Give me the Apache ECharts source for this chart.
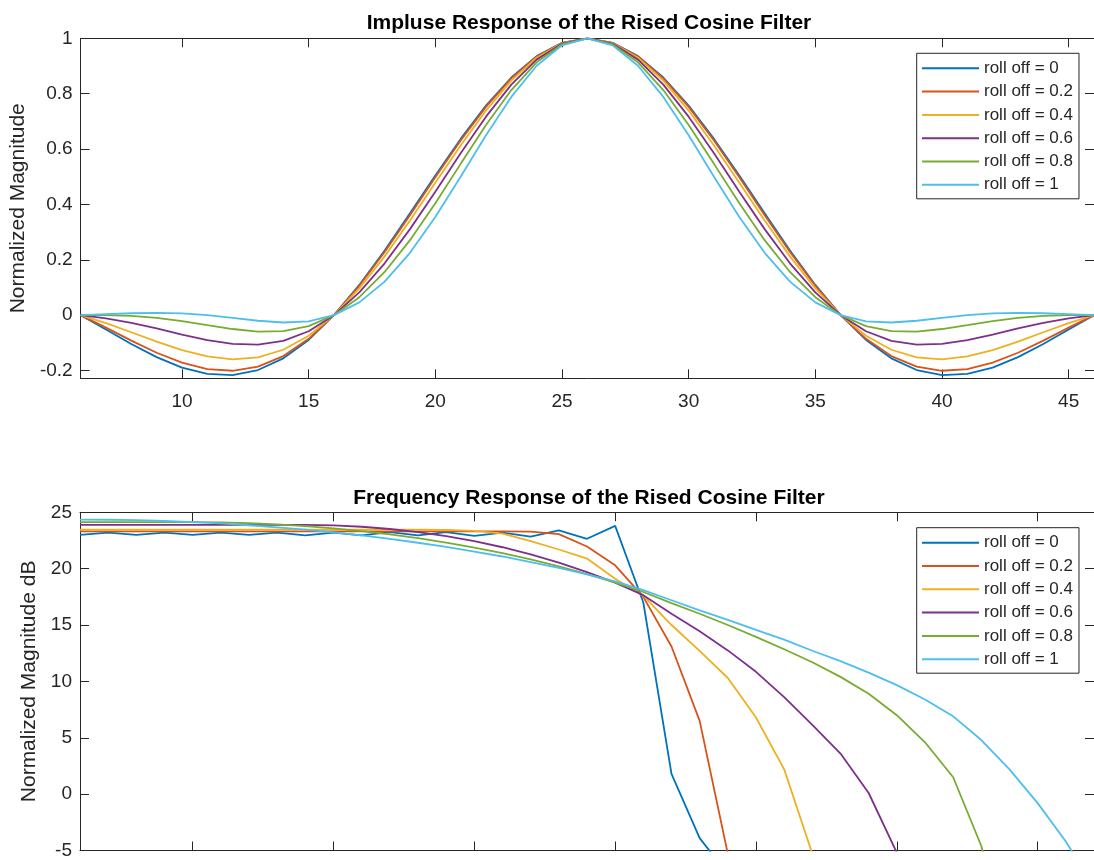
<!DOCTYPE html>
<html>
<head>
<meta charset="utf-8">
<script src="https://cdn.jsdelivr.net/npm/echarts@6/dist/echarts.min.js"></script>
<style>
html,body{margin:0;padding:0;background:#fff;}
#chart{width:1094px;height:860px;}
</style>
</head>
<body>
<div id="chart"></div>
<script>
// ---------- data ----------
const seriesNames = ['roll off = 0', 'roll off = 0.2', 'roll off = 0.4', 'roll off = 0.6', 'roll off = 0.8', 'roll off = 1'];
const topTitle = 'Impluse Response of the Rised Cosine Filter';
const bottomTitle = 'Frequency Response of the Rised Cosine Filter';
const topYLabel = 'Normalized Magnitude';
const bottomYLabel = 'Normalized Magnitude dB';

// impulse response sample index
const samples = [6,7,8,9,10,11,12,13,14,15,16,17,18,19,20,21,22,23,24,25,26,27,28,29,30,31,32,33,34,35,36,37,38,39,40,41,42,43,44,45,46];
const topXTicks = [10,15,20,25,30,35,40,45];
const topYTicks = [-0.2,0,0.2,0.4,0.6,0.8,1];

const imp00 = [0,-0.0518,-0.1039,-0.1515,-0.1892,-0.2122,-0.2162,-0.1981,-0.1559,-0.0894,0,0.1093,0.2339,0.3679,0.5046,0.6366,0.7568,0.8584,0.9355,0.9836,1,0.9836,0.9355,0.8584,0.7568,0.6366,0.5046,0.3679,0.2339,0.1093,0,-0.0894,-0.1559,-0.1981,-0.2162,-0.2122,-0.1892,-0.1515,-0.1039,-0.0518,0];
const imp02 = [0,-0.0451,-0.0919,-0.1357,-0.1717,-0.1949,-0.2008,-0.1859,-0.1477,-0.0854,0,0.1060,0.2283,0.3612,0.4978,0.6307,0.7523,0.8555,0.9341,0.9833,1,0.9833,0.9341,0.8555,0.7523,0.6307,0.4978,0.3612,0.2283,0.1060,0,-0.0854,-0.1477,-0.1859,-0.2008,-0.1949,-0.1717,-0.1357,-0.0919,-0.0451,0];
const imp04 = [0,-0.0288,-0.0617,-0.0955,-0.1262,-0.1490,-0.1593,-0.1524,-0.1249,-0.0743,0,0.0966,0.2123,0.3416,0.4779,0.6131,0.7389,0.8469,0.9299,0.9822,1,0.9822,0.9299,0.8469,0.7389,0.6131,0.4779,0.3416,0.2123,0.0966,0,-0.0743,-0.1249,-0.1524,-0.1593,-0.1490,-0.1262,-0.0955,-0.0617,-0.0288,0];
const imp06 = [0,-0.0112,-0.0275,-0.0478,-0.0699,-0.0901,-0.1040,-0.1065,-0.0926,-0.0580,0,0.0823,0.1873,0.3108,0.4461,0.5847,0.7169,0.8327,0.9230,0.9803,1,0.9803,0.9230,0.8327,0.7169,0.5847,0.4461,0.3108,0.1873,0.0823,0,-0.0580,-0.0926,-0.1065,-0.1040,-0.0901,-0.0699,-0.0478,-0.0275,-0.0112,0];
const imp08 = [0,0.0004,-0.0027,-0.0101,-0.0217,-0.0361,-0.0500,-0.0591,-0.0576,-0.0396,0,0.0649,0.1560,0.2710,0.4041,0.5465,0.6869,0.8131,0.9133,0.9778,1,0.9778,0.9133,0.8131,0.6869,0.5465,0.4041,0.2710,0.1560,0.0649,0,-0.0396,-0.0576,-0.0591,-0.0500,-0.0361,-0.0217,-0.0101,-0.0027,0.0004,0];
const imp10 = [0,0.0037,0.0070,0.0084,0.0063,0,-0.0098,-0.0202,-0.0265,-0.0222,0,0.0464,0.1213,0.2253,0.3544,0.5,0.6497,0.7884,0.9010,0.9745,1,0.9745,0.9010,0.7884,0.6497,0.5,0.3544,0.2253,0.1213,0.0464,0,-0.0222,-0.0265,-0.0202,-0.0098,0,0.0063,0.0084,0.0070,0.0037,0];

// frequency response bins
const freqBins = [1,2,3,4,5,6,7,8,9,10,11,12,13,14,15,16,17,18,19,20,21,22,23,24,25,26,27,28,29,30,31,32,33,34,35,36,37];
const bottomXTicks = [5,10,15,20,25,30,35];

const freq00 = [23.0,23.2,23.0,23.2,23.0,23.2,23.0,23.2,22.95,23.2,22.95,23.25,22.95,23.25,22.9,23.2,22.85,23.4,22.65,23.8,17.0,1.8,-3.9,-7.1,null,null,null,null,null,null,null,null,null,null,null,null,null];
const freq02 = [23.3,23.3,23.3,23.3,23.3,23.3,23.3,23.3,23.3,23.3,23.3,23.3,23.3,23.3,23.3,23.3,23.28,23.06,21.97,20.3,17.5,13.1,6.5,-5.3,null,null,null,null,null,null,null,null,null,null,null,null,null];
const freq04 = [23.47,23.47,23.47,23.47,23.47,23.47,23.47,23.47,23.47,23.47,23.47,23.47,23.47,23.44,23.35,23.1,22.45,21.7,20.9,19.1,17.6,15.0,12.7,10.3,6.8,2.2,-5.3,null,null,null,null,null,null,null,null,null,null];
const freq06 = [23.88,23.88,23.88,23.88,23.88,23.88,23.88,23.88,23.88,23.84,23.72,23.52,23.24,22.88,22.44,21.90,21.27,20.54,19.70,18.76,17.65,16.0,14.45,12.75,10.85,8.6,6.15,3.6,0.1,-5.2,null,null,null,null,null,null,null];
const freq08 = [24.12,24.12,24.12,24.12,24.12,24.10,24.03,23.92,23.77,23.57,23.33,23.04,22.70,22.31,21.87,21.38,20.83,20.21,19.52,18.76,17.93,16.95,16.0,15.0,13.95,12.85,11.7,10.4,8.9,7.0,4.6,1.5,-4.6,-15,null,null,null];
const freq10 = [24.35,24.34,24.30,24.23,24.13,24.01,23.85,23.67,23.46,23.22,22.95,22.64,22.30,21.93,21.52,21.08,20.59,20.06,19.49,18.87,18.1,17.2,16.3,15.45,14.57,13.7,12.72,11.8,10.78,9.67,8.4,6.9,4.8,2.2,-0.8,-4.2,-8.2];

// ---------- styling ----------
const colors = ['#0072BD','#D95319','#EDB120','#7E2F8E','#77AC30','#4DBEEE'];
const FONT = '"Liberation Sans", Arial, Helvetica, sans-serif';
const AX = '#262626';

const impulse = [imp00, imp02, imp04, imp06, imp08, imp10];
const freq = [freq00, freq02, freq04, freq06, freq08, freq10];

function pairs(xs, ys) { return xs.map((x, i) => [x, ys[i]]); }

function xAx(grid, pos, min, max, ticks, showLabels) {
  return {
    type: 'value', gridIndex: grid, position: pos, min: min, max: max,
    axisLine: { show: true, onZero: false, lineStyle: { color: AX, width: 1 } },
    axisTick: { show: true, inside: true, length: 9, customValues: ticks, lineStyle: { color: AX, width: 1 } },
    axisLabel: { show: showLabels, customValues: ticks, margin: 14, color: AX, fontSize: 19, fontFamily: FONT },
    splitLine: { show: false }
  };
}
function yAx(grid, pos, min, max, ticks, showLabels, name, nameGap) {
  const a = {
    type: 'value', gridIndex: grid, position: pos, min: min, max: max,
    axisLine: { show: true, onZero: false, lineStyle: { color: AX, width: 1 } },
    axisTick: { show: true, inside: true, length: 9, lineStyle: { color: AX, width: 1 } },
    axisLabel: { show: showLabels, margin: 8, color: AX, fontSize: 19, fontFamily: FONT },
    splitLine: { show: false }
  };
  if (Array.isArray(ticks)) {
    a.axisTick.customValues = ticks;
    a.axisLabel.customValues = ticks;
  } else {
    a.interval = ticks;
  }
  if (name) {
    a.name = name;
    a.nameLocation = 'middle';
    a.nameRotate = 90;
    a.nameGap = nameGap;
    a.nameTextStyle = { color: AX, fontSize: 21, fontFamily: FONT };
  }
  return a;
}

function legendAt(top) {
  return {
    orient: 'vertical', left: 916.7, top: top,
    padding: [5, 6, 4, 5.3],
    icon: 'rect',
    itemWidth: 57, itemHeight: 2, itemGap: 3.3,
    backgroundColor: '#ffffff', borderColor: AX, borderWidth: 1, borderRadius: 0,
    textStyle: { color: AX, fontSize: 17, lineHeight: 20, fontFamily: FONT },
    data: seriesNames, selectedMode: false
  };
}

const series = [];
seriesNames.forEach((n, k) => {
  series.push({
    name: n, type: 'line', xAxisIndex: 0, yAxisIndex: 0,
    data: pairs(samples, impulse[k]), symbol: 'none', clip: true,
    lineStyle: { color: colors[k], width: 1.8 }, itemStyle: { color: colors[k] }
  });
});
seriesNames.forEach((n, k) => {
  series.push({
    name: n, type: 'line', xAxisIndex: 2, yAxisIndex: 2,
    data: pairs(freqBins, freq[k]), symbol: 'none', clip: true, connectNulls: false,
    lineStyle: { color: colors[k], width: 1.8 }, itemStyle: { color: colors[k] }
  });
});

const option = {
  animation: false,
  backgroundColor: '#ffffff',
  color: colors,
  grid: [
    { left: 80, top: 38.3, width: 1018, height: 340, containLabel: false },
    { left: 80, top: 512.3, width: 1018, height: 340, containLabel: false }
  ],
  xAxis: [
    xAx(0, 'bottom', 6, 46, topXTicks, true),
    xAx(0, 'top', 6, 46, topXTicks, false),
    xAx(1, 'bottom', 1, 37, bottomXTicks, false),
    xAx(1, 'top', 1, 37, bottomXTicks, false)
  ],
  yAxis: [
    yAx(0, 'left', -0.228, 1, topYTicks, true, topYLabel, 46),
    yAx(0, 'right', -0.228, 1, topYTicks, false),
    yAx(1, 'left', -5, 25, 5, true, bottomYLabel, 37),
    yAx(1, 'right', -5, 25, 5, false)
  ],
  legend: [legendAt(53.3), legendAt(527.7)],
  graphic: [
    { type: 'text', x: 589, y: 23, z: 10,
      style: { text: topTitle, textAlign: 'center', textVerticalAlign: 'middle', font: 'bold 21px ' + FONT, fill: '#000' } },
    { type: 'text', x: 589, y: 498, z: 10,
      style: { text: bottomTitle, textAlign: 'center', textVerticalAlign: 'middle', font: 'bold 21px ' + FONT, fill: '#000' } }
  ],
  series: series
};

const chart = echarts.init(document.getElementById('chart'), null, { renderer: 'canvas' });
chart.setOption(option);
</script>
</body>
</html>
